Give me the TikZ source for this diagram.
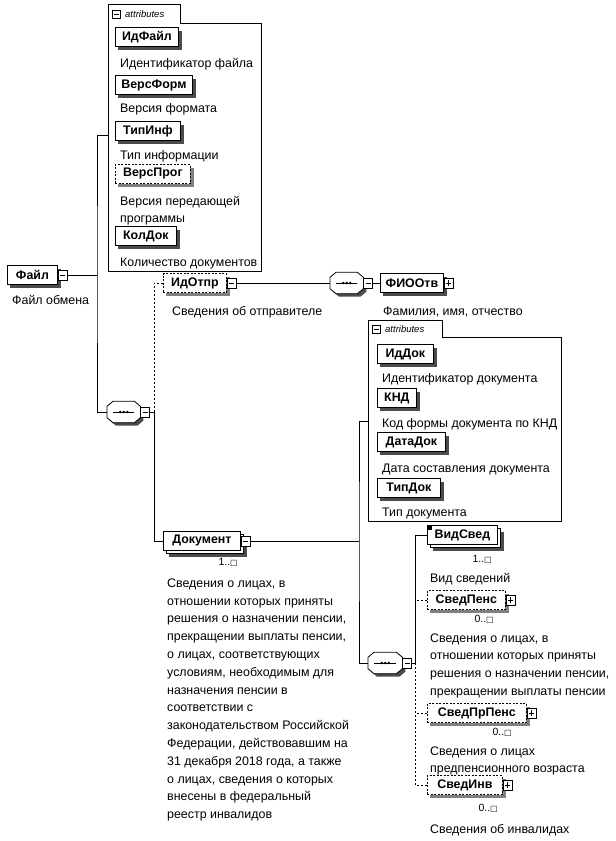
\documentclass[tikz,border=0pt]{standalone}
\usepackage{fontspec}
\setmainfont{Liberation Sans}
\newfontfamily\symf{DejaVu Sans}
\usetikzlibrary{backgrounds}
\newcommand{\occsq}{{\symf\fontsize{8}{8}\selectfont □}}
\definecolor{shadowcol}{gray}{0.3}
\definecolor{optshadowcol}{gray}{0.5}
\tikzset{
  conn/.style={line width=0.8pt},
  optconn/.style={conn, dash pattern=on 2pt off 2pt},
  elbox/.style={draw, line width=0.8pt, fill=white, font=\bfseries\fontsize{12.4}{14}\selectfont,
    minimum height=19pt, inner xsep=2pt, inner ysep=0pt, anchor=west},
  optbox/.style={elbox, dash pattern=on 2pt off 1.5pt},
  desc/.style={font=\fontsize{12.4}{17.6}\selectfont, anchor=north west, inner sep=0pt, align=left},
  occ/.style={font=\fontsize{10.5}{12}\selectfont, anchor=north east, inner sep=0pt},
  pmbox/.style={draw, line width=0.7pt, fill=white, minimum width=9pt, minimum height=10pt, inner sep=0pt, anchor=west},
  minusbox/.style={pmbox, path picture={\draw[line width=0.7pt] ([xshift=1.8pt]path picture bounding box.west) -- ([xshift=-1.8pt]path picture bounding box.east);}},
  plusbox/.style={pmbox, path picture={\draw[line width=0.7pt] ([xshift=1.8pt]path picture bounding box.west) -- ([xshift=-1.8pt]path picture bounding box.east);
      \draw[line width=0.7pt] ([yshift=1.8pt]path picture bounding box.south) -- ([yshift=-1.8pt]path picture bounding box.north);}},
  seqbox/.style={rectangle, draw=none, minimum width=33pt, minimum height=21pt, inner sep=0pt, anchor=west},
  grpline/.style={line width=0.8pt},
  tabtext/.style={font=\itshape\fontsize{9.5}{10}\selectfont, anchor=west, inner sep=0pt},
  copybox/.style={draw, line width=0.8pt, fill=white},
}
% element box with its shadow: style, shadow colour, name, x, y, width, text
\newcommand{\elnode}[7]{%
  \fill[#2] (#4+3,#5-6.5) rectangle (#4+#6+3.5,#5+13);
  \node[#1, minimum width=#6pt] (#3) at (#4,#5) {#7};}
% repeating element: shadow, offset copy, box: name, x, y, width, text
\newcommand{\multinode}[5]{%
  \fill[shadowcol] (#2+6,#3-3.5) rectangle (#2+#4+6.5,#3+16);
  \draw[copybox] (#2+3,#3-6.5) rectangle (#2+#4+3,#3+12.5);
  \node[elbox, minimum width=#4pt] (#1) at (#2,#3) {#5};}
% octagon path around a named node
\newcommand{\octpath}[1]{([xshift=6pt]#1.north west) -- ([xshift=-6pt]#1.north east) -- ([yshift=-5pt]#1.north east) -- ([yshift=5pt]#1.south east) -- ([xshift=-6pt]#1.south east) -- ([xshift=6pt]#1.south west) -- ([yshift=5pt]#1.south west) -- ([yshift=-5pt]#1.north west) -- cycle}
\newcommand{\seqdraw}[1]{%
  \begin{scope}[on background layer]
    \begin{scope}[transform canvas={shift={(3pt,-3pt)}}]
      \fill[shadowcol] \octpath{#1};
    \end{scope}
  \end{scope}
  \draw[line width=0.8pt, fill=white] \octpath{#1};
  \draw[line width=0.8pt] ([xshift=6pt]#1.west) -- ([xshift=-6pt]#1.east);
  \foreach \dx in {-3.5,0,3.5} \fill ([xshift=\dx pt]#1.center) circle (1.4pt);}
\begin{document}
\begin{tikzpicture}[x=1pt,y=-1pt]
\useasboundingbox (0,0) rectangle (616,841);

% ---------- top attributes group ----------
\draw[grpline] (108,271) -- (108,4) -- (180,4) -- (180,23) -- (261,23) -- (261,271) -- cycle;
\node[minusbox, minimum width=8pt, minimum height=8pt] (tabA) at (112,14) {};
\node[tabtext] (tabAt) at (125,14) {attributes};
\coordinate (attrA) at (108,135);

\elnode{elbox}{shadowcol}{idfile}{115}{37}{63}{ИдФайл}
\node[desc] (idfiled) at (120,58.5) {Идентификатор файла};
\elnode{elbox}{shadowcol}{versform}{115}{85}{77}{ВерсФорм}
\node[desc] (versformd) at (120,103.5) {Версия формата};
\elnode{elbox}{shadowcol}{tipinf}{115}{131}{65}{ТипИнф}
\node[desc] (tipinfd) at (120,150.5) {Тип информации};
\elnode{optbox}{optshadowcol}{versprog}{115}{174}{75}{ВерсПрог}
\node[desc, font=\fontsize{12.4}{16.7}\selectfont] (versprogd) at (120,196.5) {Версия передающей\\программы};
\elnode{elbox}{shadowcol}{koldok}{115}{236}{61}{КолДок}
\node[desc] (koldokd) at (120,257.5) {Количество документов};

% ---------- root ----------
\elnode{elbox}{shadowcol}{fayl}{7}{275}{50}{Файл}
\node[minusbox] (faylm) at (fayl.east) {};
\node[desc] (fayld) at (12,295.5) {Файл обмена};
\coordinate (jA) at (97,275);
\draw[conn] (faylm.east) -- (jA);

% ---------- left sequence ----------
\node[seqbox] (seq1) at (107,412) {};
\seqdraw{seq1}
\node[minusbox] (seq1m) at (seq1.east) {};
\draw[conn] (attrA) -| (jA) |- (seq1.west);
\coordinate (jB) at (154,412);

% ---------- ИдОтпр ----------
\elnode{optbox}{optshadowcol}{idotpr}{163}{283}{63}{ИдОтпр}
\node[minusbox] (idotprm) at (idotpr.east) {};
\node[desc] (idotprd) at (172,306.5) {Сведения об отправителе};
\draw[optconn] (seq1m.east) -- (jB) |- (idotpr.west);

\node[seqbox] (seq2) at (330,283) {};
\seqdraw{seq2}
\node[minusbox] (seq2m) at (seq2.east) {};
\draw[conn] (idotprm.east) -- (seq2.west);
\elnode{elbox}{shadowcol}{fio}{380}{283}{63}{ФИООтв}
\node[plusbox] (fiop) at (fio.east) {};
\draw[conn] (seq2m.east) -- (fio.west);
\node[desc] (fiod) at (383,306.5) {Фамилия, имя, отчество};

% ---------- Документ ----------
\multinode{dok}{163}{541}{77}{Документ}
\node[minusbox] (dokm) at (dok.east) {};
\draw[conn] (seq1m.east) -- (jB) |- (dok.west);
\node[occ] (dokocc) at (238,558) {1..\occsq};
\node[desc, font=\fontsize{12.4}{17.8}\selectfont] (dokd) at (167,578.5) {Сведения о лицах, в\\отношении которых приняты\\решения о назначении пенсии,\\прекращении выплаты пенсии,\\о лицах, соответствующих\\условиям, необходимым для\\назначения пенсии в\\соответствии с\\законодательством Российской\\Федерации, действовавшим на\\31 декабря 2018 года, а также\\о лицах, сведения о которых\\внесены в федеральный\\реестр инвалидов};

% ---------- second attributes group ----------
\draw[grpline] (368,521) -- (368,320) -- (442,320) -- (442,337) -- (561,337) -- (561,521) -- cycle;
\node[minusbox, minimum width=8pt, minimum height=8pt] (tabB) at (372,329) {};
\node[tabtext] (tabBt) at (385,329) {attributes};
\coordinate (attrB) at (368,421);

\elnode{elbox}{shadowcol}{iddok}{377}{354}{56}{ИдДок}
\node[desc] (iddokd) at (382,373.5) {Идентификатор документа};
\elnode{elbox}{shadowcol}{knd}{377}{398}{39}{КНД}
\node[desc] (kndd) at (382,418.5) {Код формы документа по КНД};
\elnode{elbox}{shadowcol}{datadok}{377}{442}{68}{ДатаДок}
\node[desc] (datadokd) at (382,463.5) {Дата составления документа};
\elnode{elbox}{shadowcol}{tipdok}{377}{488}{63}{ТипДок}
\node[desc] (tipdokd) at (382,507.5) {Тип документа};

\coordinate (jC) at (359,541);
\draw[conn] (dokm.east) -- (jC);

% ---------- right sequence ----------
\node[seqbox, minimum width=34pt] (seq3) at (368,663) {};
\seqdraw{seq3}
\node[minusbox] (seq3m) at (seq3.east) {};
\draw[conn] (attrB) -| (jC) |- (seq3.west);
\coordinate (jD) at (415,663);

\multinode{vid}{427}{535}{70}{ВидСвед}
\fill ([xshift=1pt,yshift=-1pt]vid.north west) rectangle ++(4pt,-4pt);
\node[occ] (vidocc) at (492,555) {1..\occsq};
\node[desc] (vidd) at (430,573.5) {Вид сведений};

\elnode{optbox}{optshadowcol}{svpens}{427}{600}{78}{СведПенс}
\node[plusbox] (svpensp) at (svpens.east) {};
\node[occ] (svpensocc) at (494,615) {0..\occsq};
\node[desc] (svpensd) at (430,633.5) {Сведения о лицах, в\\отношении которых приняты\\решения о назначении пенсии,\\прекращении выплаты пенсии};

\elnode{optbox}{optshadowcol}{svprpens}{427}{713}{99}{СведПрПенс}
\node[plusbox] (svprpensp) at (svprpens.east) {};
\node[occ] (svprpensocc) at (512,728) {0..\occsq};
\node[desc] (svprpensd) at (430,746.5) {Сведения о лицах\\предпенсионного возраста};

\elnode{optbox}{optshadowcol}{svinv}{427}{785}{75}{СведИнв}
\node[plusbox] (svinvp) at (svinv.east) {};
\node[occ] (svinvocc) at (498,804) {0..\occsq};
\node[desc] (svinvd) at (430,824.5) {Сведения об инвалидах};

\draw[optconn] (seq3m.east) -- (jD) |- (svpens.west);
\draw[optconn] (jD) |- (svprpens.west);
\draw[optconn] (jD) |- (svinv.west);
\draw[conn] (seq3m.east) -- (jD) |- (vid.west);
\end{tikzpicture}
\end{document}
